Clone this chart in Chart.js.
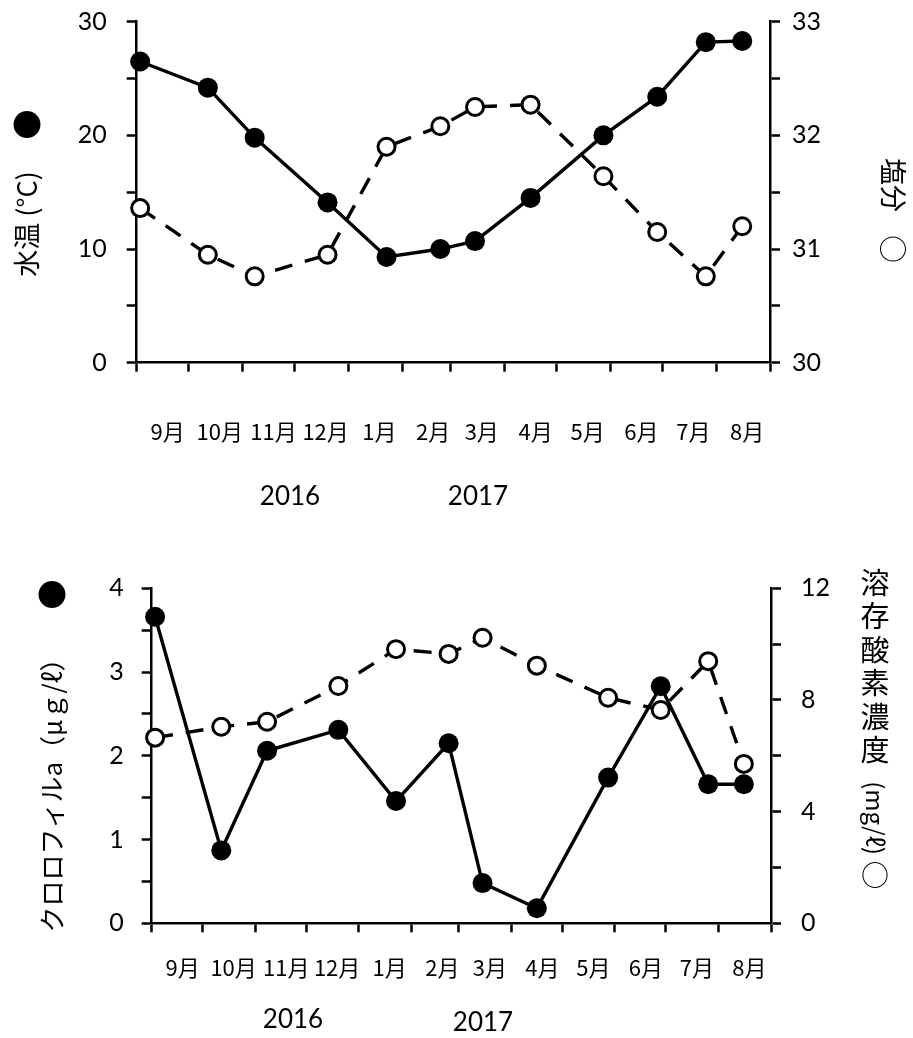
<!DOCTYPE html>
<html>
<head>
<meta charset="utf-8">
<script src="https://cdn.jsdelivr.net/npm/chart.js@4/dist/chart.umd.min.js"></script>
<style>
  html, body { margin: 0; padding: 0; background: #fff; }
  #wrap { position: relative; width: 913px; height: 1038px; }
  canvas { position: absolute; left: 0; }
  #c1 { top: 0; }
  #c2 { top: 540px; }
</style>
</head>
<body>
<div id="wrap">
  <canvas id="c1" width="913" height="520"></canvas>
  <canvas id="c2" width="913" height="498"></canvas>
</div>
<script>
// Sampling dates (Sep 2016 – Aug 2017)
const sampleDates = ['2016-09-03', '2016-10-12', '2016-11-08', '2016-12-20', '2017-01-23', '2017-02-23',
                     '2017-03-15', '2017-04-16', '2017-05-28', '2017-06-28', '2017-07-26', '2017-08-16'];
const monthLabels = ['9月', '10月', '11月', '12月', '1月', '2月', '3月', '4月', '5月', '6月', '7月', '8月'];
const yearLabels = ['2016', '2017'];

// Water temperature (°C) and salinity
const waterTemp = [26.5, 24.2, 19.8, 14.1, 9.3, 10.0, 10.7, 14.5, 20.0, 23.4, 28.2, 28.3];
const salinity  = [31.36, 30.95, 30.76, 30.95, 31.90, 32.08, 32.25, 32.27, 31.64, 31.15, 30.76, 31.20];

// Chlorophyll a (µg/L) and dissolved oxygen (mg/L)
const chlorophyll = [3.66, 0.87, 2.06, 2.31, 1.46, 2.15, 0.48, 0.18, 1.74, 2.83, 1.66, 1.66];
const dissolvedO2 = [6.65, 7.04, 7.22, 8.50, 9.82, 9.65, 10.23, 9.23, 8.08, 7.64, 9.39, 5.71];

// Days are counted from 1 Sep 2016 on a linear axis
const DAY = 86400000;
const origin = Date.UTC(2016, 8, 1);
const dayOf = s => (Date.parse(s) - origin) / DAY;
const monthStarts = [];
for (let i = 0; i <= 12; i++) monthStarts.push((Date.UTC(2016, 8 + i, 1) - origin) / DAY);
const toPoints = vals => vals.map((v, i) => ({ x: dayOf(sampleDates[i]), y: v }));

const NUM_FONT = 'Lato, "Liberation Sans", sans-serif';
const JP_FONT = '"Noto Sans CJK JP", "Noto Sans", sans-serif';
const MONTH_FONT = '"Liberation Sans Narrow", "Noto Sans CJK JP", sans-serif';

const axisBorder = { display: true, color: '#000', width: 2.5 };
const tickGrid = { drawOnChartArea: false, drawTicks: true, tickLength: 10, tickWidth: 2.5, tickColor: '#000' };

// Keep the plot area where the layout padding puts it
const noEdgePadding = axis => {
  axis.paddingTop = 0; axis.paddingBottom = 0;
  axis.paddingLeft = 0; axis.paddingRight = 0;
};

// Free-standing labels: axis titles, symbols and years
const textPlugin = {
  id: 'freeText',
  afterDraw(chart, args, opts) {
    const ctx = chart.ctx;
    (opts.items || []).forEach(it => {
      ctx.save();
      ctx.fillStyle = '#000';
      ctx.font = it.font;
      ctx.textAlign = 'center';
      ctx.textBaseline = 'middle';
      ctx.translate(it.x, it.y);
      if (it.rotate) ctx.rotate(it.rotate);
      if (it.column) {
        // upright vertical writing, one character per line
        Array.from(it.text).forEach((ch, k) => ctx.fillText(ch, 0, k * it.step));
      } else {
        ctx.fillText(it.text, 0, 0);
      }
      ctx.restore();
    });
  }
};

function xScale(labelPadding, height) {
  return {
    type: 'linear',
    position: 'bottom',
    min: 0,
    max: 365,
    afterBuildTicks: axis => { axis.ticks = monthStarts.map(v => ({ value: v })); },
    afterFit: axis => { axis.height = height; noEdgePadding(axis); },
    ticks: {
      autoSkip: false,
      maxRotation: 0,
      labelOffset: 31,
      padding: labelPadding,
      color: '#000',
      font: { family: MONTH_FONT, size: 22 },
      callback: (v, i) => (i < monthLabels.length ? monthLabels[i] : '')
    },
    grid: Object.assign({}, tickGrid, { tickLength: 9 }),
    border: axisBorder
  };
}

function yScale(pos, min, max, step, major, width, pad) {
  return {
    type: 'linear',
    position: pos,
    min: min,
    max: max,
    afterFit: axis => { axis.width = width; noEdgePadding(axis); },
    ticks: {
      stepSize: step,
      padding: pad,
      color: '#000',
      font: { family: NUM_FONT, size: 25 },
      callback: v => (Math.abs(v / major - Math.round(v / major)) < 1e-9 ? String(v) : '')
    },
    grid: tickGrid,
    border: axisBorder
  };
}

function openSeries(label, data, axisId) {
  return {
    label: label, data: toPoints(data), yAxisID: axisId, order: 0, clip: false,
    borderColor: '#000', borderWidth: 3.4, borderDash: [18, 13],
    pointRadius: 8.5, pointBorderWidth: 3, pointBackgroundColor: '#fff', pointBorderColor: '#000'
  };
}
function filledSeries(label, data, axisId) {
  return {
    label: label, data: toPoints(data), yAxisID: axisId, order: 1, clip: false,
    borderColor: '#000', borderWidth: 3.4,
    pointRadius: 10, pointBorderWidth: 0, pointBackgroundColor: '#000', pointBorderColor: '#000'
  };
}

const common = {
  responsive: false,
  animation: false,
  events: [],
  plugins: { legend: { display: false }, tooltip: { enabled: false } }
};

// Water temperature / salinity
new Chart(document.getElementById('c1'), {
  type: 'line',
  data: { datasets: [openSeries('塩分', salinity, 'y2'), filledSeries('水温', waterTemp, 'y')] },
  options: Object.assign({}, common, {
    layout: { padding: { top: 21.7, left: 0, right: 0, bottom: 0 } },
    scales: {
      x: xScale(47, 520 - 362.7),
      y: yScale('left', 0, 30, 5, 10, 136.7, 20),
      y2: yScale('right', 30, 33, 0.5, 1, 913 - 770, 12)
    },
    plugins: Object.assign({}, common.plugins, {
      freeText: { items: [
        { text: '●', x: 27, y: 125, font: '30px ' + JP_FONT },
        { text: '水温 (°C)', x: 27, y: 224, rotate: -Math.PI / 2, font: '27px ' + JP_FONT },
        { text: '塩分', x: 893, y: 185, rotate: Math.PI / 2, font: '27px ' + JP_FONT },
        { text: '○', x: 893, y: 249, rotate: Math.PI / 2, font: '28px ' + JP_FONT },
        { text: yearLabels[0], x: 290, y: 497, font: '26px ' + NUM_FONT },
        { text: yearLabels[1], x: 478, y: 497, font: '26px ' + NUM_FONT }
      ] }
    })
  }),
  plugins: [textPlugin]
});

// Chlorophyll a / dissolved oxygen
new Chart(document.getElementById('c2'), {
  type: 'line',
  data: { datasets: [openSeries('溶存酸素濃度', dissolvedO2, 'y2'), filledSeries('クロロフィルa', chlorophyll, 'y')] },
  options: Object.assign({}, common, {
    layout: { padding: { top: 48.3, left: 0, right: 0, bottom: 0 } },
    scales: {
      x: xScale(22, 498 - 383.3),
      y: yScale('left', 0, 4, 0.5, 1, 151.7, 18),
      y2: yScale('right', 0, 12, 2, 4, 913 - 771, 20)
    },
    plugins: Object.assign({}, common.plugins, {
      freeText: { items: [
        { text: '●', x: 52, y: 55, font: '30px ' + JP_FONT },
        { text: 'クロロフィルa（μｇ/ℓ）', x: 52, y: 249, rotate: -Math.PI / 2, font: '26px ' + JP_FONT },
        { text: '溶存酸素濃度', x: 875, y: 43, column: true, step: 33.4, font: '29px ' + JP_FONT },
        { text: '(mg/ℓ)', x: 875, y: 278, rotate: Math.PI / 2, font: '24px ' + JP_FONT },
        { text: '○', x: 875, y: 335, font: '28px ' + JP_FONT },
        { text: yearLabels[0], x: 293, y: 480, font: '26px ' + NUM_FONT },
        { text: yearLabels[1], x: 483, y: 483, font: '26px ' + NUM_FONT }
      ] }
    })
  }),
  plugins: [textPlugin]
});
</script>
</body>
</html>
